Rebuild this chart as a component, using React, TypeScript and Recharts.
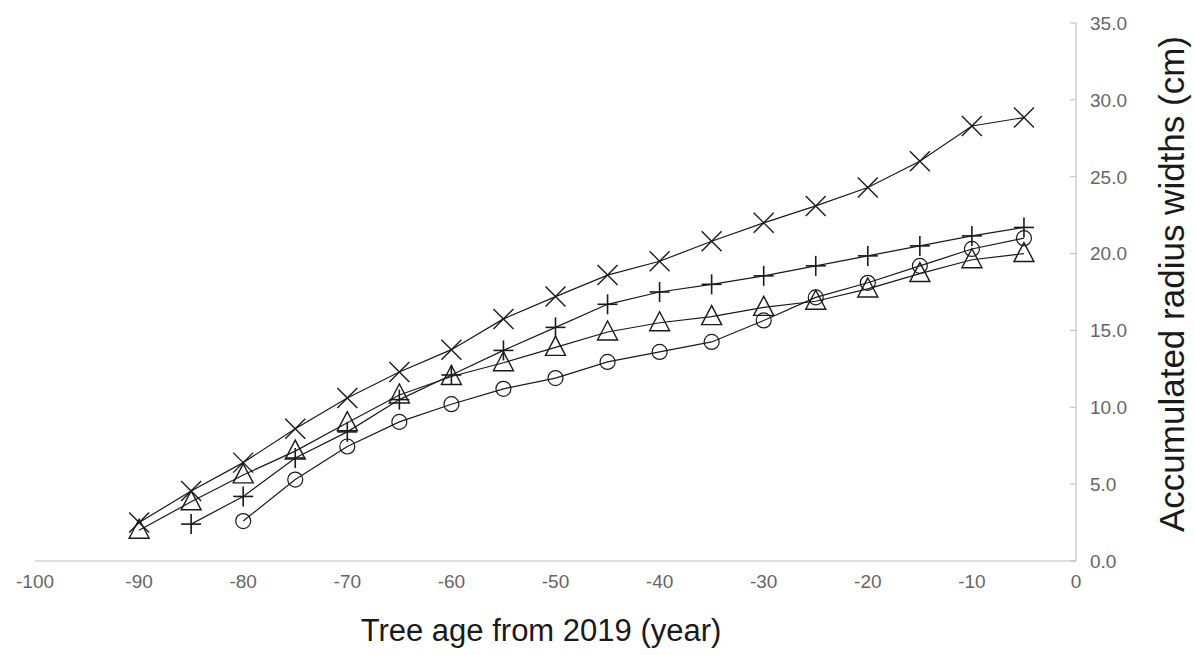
import { LineChart, Line, XAxis, YAxis, Label } from 'recharts';

// tree age (years before 2019)
const years = [-90, -85, -80, -75, -70, -65, -60, -55, -50, -45, -40, -35, -30, -25, -20, -15, -10, -5];

// accumulated radius widths (cm), one array per tree
const crossSeries = [2.5, 4.55, 6.4, 8.6, 10.6, 12.3, 13.75, 15.75, 17.2, 18.6, 19.5, 20.8, 22.0, 23.1, 24.3, 26.0, 28.3, 28.85];
const plusSeries = [null, 2.4, 4.2, 6.7, 8.4, 10.5, 12.1, 13.7, 15.2, 16.7, 17.5, 18.0, 18.55, 19.2, 19.85, 20.5, 21.15, 21.7];
const triangleSeries = [2.0, 3.85, 5.6, 7.15, 9.0, 10.8, 12.0, 12.9, 13.9, 14.9, 15.5, 15.9, 16.5, 16.9, 17.7, 18.7, 19.6, 20.0];
const circleSeries = [null, null, 2.6, 5.3, 7.45, 9.05, 10.2, 11.2, 11.9, 12.95, 13.6, 14.25, 15.65, 17.15, 18.1, 19.2, 20.3, 21.0];

const xTicks = [-100, -90, -80, -70, -60, -50, -40, -30, -20, -10, 0];
const yTicks = [0, 5, 10, 15, 20, 25, 30, 35];

const FONT = '"Liberation Sans", Arial, Helvetica, sans-serif';
const AXIS_GREY = '#bdbdbd';
const TICK_GREY = '#666';
const INK = '#1a1a1a';

const data = years.map((year, i) => ({
  year,
  cross: crossSeries[i],
  plus: plusSeries[i],
  tri: triangleSeries[i],
  circ: circleSeries[i],
}));

type DotProps = { cx?: number | null; cy?: number | null; index?: number; value?: unknown };

function hasPoint(p: DotProps) {
  return p.cx != null && p.cy != null && p.value != null && !isNaN(Number(p.cy));
}

function CrossDot(p: DotProps) {
  if (!hasPoint(p)) return <g key={`x-${p.index}`} />;
  const { cx, cy } = p as { cx: number; cy: number };
  const s = 10;
  return (
    <g key={`x-${p.index}`} stroke={INK} strokeWidth={1.4}>
      <line x1={cx - s} y1={cy - s} x2={cx + s} y2={cy + s} />
      <line x1={cx - s} y1={cy + s} x2={cx + s} y2={cy - s} />
    </g>
  );
}

function PlusDot(p: DotProps) {
  if (!hasPoint(p)) return <g key={`p-${p.index}`} />;
  const { cx, cy } = p as { cx: number; cy: number };
  const s = 10;
  return (
    <g key={`p-${p.index}`} stroke={INK} strokeWidth={1.6}>
      <line x1={cx - s} y1={cy} x2={cx + s} y2={cy} />
      <line x1={cx} y1={cy - s} x2={cx} y2={cy + s} />
    </g>
  );
}

function TriangleDot(p: DotProps) {
  if (!hasPoint(p)) return <g key={`t-${p.index}`} />;
  const { cx, cy } = p as { cx: number; cy: number };
  const pts = `${cx},${cy - 11} ${cx - 10},${cy + 8} ${cx + 10},${cy + 8}`;
  return <polygon key={`t-${p.index}`} points={pts} fill="none" stroke={INK} strokeWidth={1.4} />;
}

function CircleDot(p: DotProps) {
  if (!hasPoint(p)) return <g key={`c-${p.index}`} />;
  const { cx, cy } = p as { cx: number; cy: number };
  return <circle key={`c-${p.index}`} cx={cx} cy={cy} r={7.5} fill="none" stroke={INK} strokeWidth={1.2} />;
}

// right-hand axis: small tick pointing into the plot, label to the right
function RightTick(props: any) {
  const { x, y, payload } = props;
  return (
    <g>
      <line x1={x - 6} y1={y} x2={x} y2={y} stroke={AXIS_GREY} />
      <text x={x + 14} y={y} dy="0.36em" fill={TICK_GREY} fontSize={19} fontFamily={FONT} textAnchor="start">
        {Number(payload.value).toFixed(1)}
      </text>
    </g>
  );
}

export default function App() {
  return (
    <div style={{ position: 'absolute', left: 0, top: 0, background: '#fff' }}>
      <LineChart width={1195} height={655} data={data} margin={{ top: 23, right: 0, left: 35, bottom: 0 }}>
        <XAxis
          dataKey="year"
          type="number"
          domain={[-100, 0]}
          ticks={xTicks}
          tickLine={false}
          tickMargin={8}
          axisLine={{ stroke: AXIS_GREY }}
          tick={{ fontSize: 19, fill: TICK_GREY, fontFamily: FONT }}
          height={94}
        >
          <Label
            content={() => (
              <text x={541} y={630} dy="0.36em" textAnchor="middle" fontSize={31} fontFamily={FONT} fill={INK}>
                Tree age from 2019 (year)
              </text>
            )}
          />
        </XAxis>
        <YAxis
          orientation="right"
          type="number"
          domain={[0, 35]}
          ticks={yTicks}
          tickSize={0}
          tickMargin={0}
          tickLine={false}
          axisLine={{ stroke: AXIS_GREY }}
          tick={<RightTick />}
          width={119}
        >
          <Label
            content={() => (
              <text
                x={1171}
                y={284}
                dy="0.36em"
                textAnchor="middle"
                fontSize={35}
                fontFamily={FONT}
                fill={INK}
                transform="rotate(-90, 1171, 284)"
              >
                Accumulated radius widths (cm)
              </text>
            )}
          />
        </YAxis>
        <Line dataKey="cross" stroke={INK} strokeWidth={1.2} dot={CrossDot} activeDot={false} isAnimationActive={false} />
        <Line dataKey="plus" stroke={INK} strokeWidth={1.2} dot={PlusDot} activeDot={false} isAnimationActive={false} />
        <Line dataKey="tri" stroke={INK} strokeWidth={1.2} dot={TriangleDot} activeDot={false} isAnimationActive={false} />
        <Line dataKey="circ" stroke={INK} strokeWidth={1.2} dot={CircleDot} activeDot={false} isAnimationActive={false} />
      </LineChart>
    </div>
  );
}
